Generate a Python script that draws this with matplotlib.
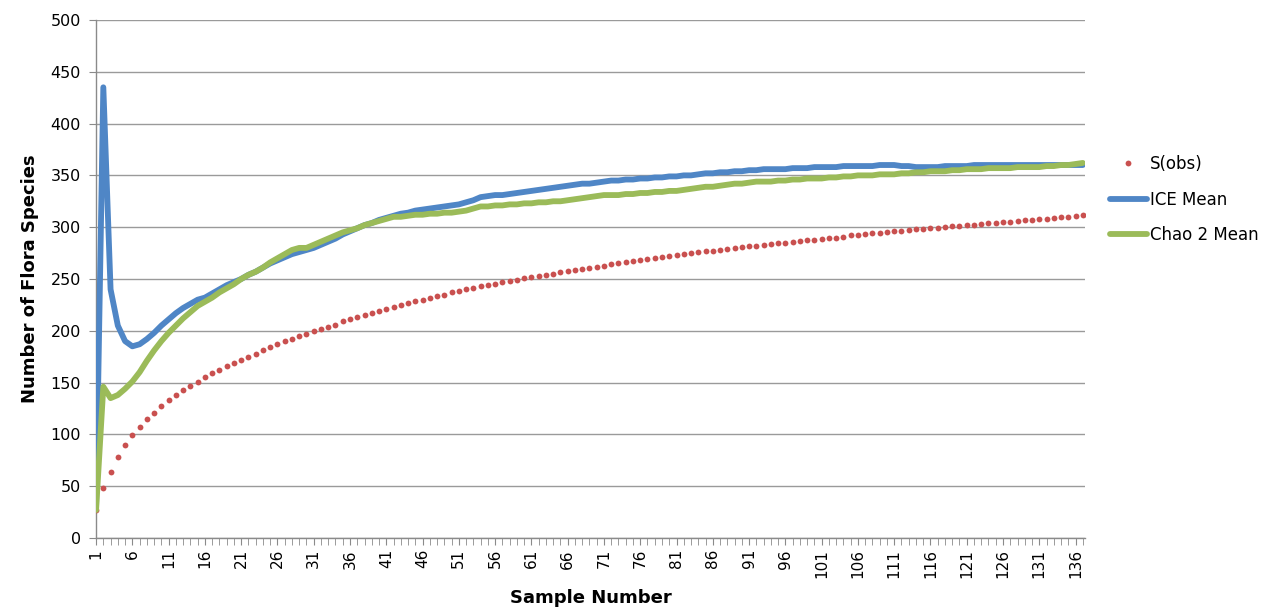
import matplotlib
matplotlib.use("Agg")
import matplotlib.pyplot as plt
import numpy as np

samples = list(range(1, 138))

s_obs = [27, 48, 64, 78, 90, 99, 107, 115, 121, 127,
         133, 138, 143, 147, 151, 155, 159, 162, 166, 169,
         172, 175, 178, 181, 184, 187, 190, 192, 195, 197,
         200, 202, 204, 206, 209, 211, 213, 215, 217, 219,
         221, 223, 225, 227, 229, 230, 232, 234, 235, 237,
         238, 240, 241, 243, 244, 245, 247, 248, 249, 251,
         252, 253, 254, 255, 257, 258, 259, 260, 261, 262,
         263, 264, 265, 266, 267, 268, 269, 270, 271, 272,
         273, 274, 275, 276, 277, 277, 278, 279, 280, 281,
         282, 282, 283, 284, 285, 285, 286, 287, 288, 288,
         289, 290, 290, 291, 292, 292, 293, 294, 294, 295,
         296, 296, 297, 298, 298, 299, 299, 300, 301, 301,
         302, 302, 303, 304, 304, 305, 305, 306, 307, 307,
         308, 308, 309, 310, 310, 311, 312]

ice_mean = [30, 435, 240, 205, 190, 185, 187, 192, 198, 205,
            211, 217, 222, 226, 230, 232, 236, 240, 244, 247,
            250, 254, 257, 261, 265, 268, 271, 274, 276, 278,
            280, 283, 286, 289, 293, 296, 299, 302, 304, 307,
            309, 311, 313, 314, 316, 317, 318, 319, 320, 321,
            322, 324, 326, 329, 330, 331, 331, 332, 333, 334,
            335, 336, 337, 338, 339, 340, 341, 342, 342, 343,
            344, 345, 345, 346, 346, 347, 347, 348, 348, 349,
            349, 350, 350, 351, 352, 352, 353, 353, 354, 354,
            355, 355, 356, 356, 356, 356, 357, 357, 357, 358,
            358, 358, 358, 359, 359, 359, 359, 359, 360, 360,
            360, 359, 359, 358, 358, 358, 358, 359, 359, 359,
            359, 360, 360, 360, 360, 360, 360, 360, 360, 360,
            360, 360, 360, 360, 360, 360, 360]

chao2_mean = [27, 146, 135, 138, 144, 151, 160, 171, 181, 190,
              198, 205, 212, 218, 224, 228, 232, 237, 241, 245,
              250, 254, 257, 261, 266, 270, 274, 278, 280, 280,
              283, 286, 289, 292, 295, 297, 299, 302, 304, 306,
              308, 310, 310, 311, 312, 312, 313, 313, 314, 314,
              315, 316, 318, 320, 320, 321, 321, 322, 322, 323,
              323, 324, 324, 325, 325, 326, 327, 328, 329, 330,
              331, 331, 331, 332, 332, 333, 333, 334, 334, 335,
              335, 336, 337, 338, 339, 339, 340, 341, 342, 342,
              343, 344, 344, 344, 345, 345, 346, 346, 347, 347,
              347, 348, 348, 349, 349, 350, 350, 350, 351, 351,
              351, 352, 352, 353, 353, 354, 354, 354, 355, 355,
              356, 356, 356, 357, 357, 357, 357, 358, 358, 358,
              358, 359, 359, 360, 360, 361, 362]

y_ticks = list(range(0, 501, 50))
x_tick_labels = list(range(1, 137, 5))

plt.rcParams['font.family'] = ['DejaVu Sans']

fig = plt.figure(figsize=(12.69, 6.09), dpi=100)
ax = fig.add_axes([0.0757, 0.1166, 0.7793, 0.8506])

ax.plot(samples, s_obs, linestyle='none', marker='o', markersize=4.2,
        color='#c9504f', markeredgewidth=0, label='S(obs)', zorder=3)
ax.plot(samples, ice_mean, color='#4f86c6', linewidth=4.2,
        solid_capstyle='round', solid_joinstyle='round', label='ICE Mean', zorder=4)
ax.plot(samples, chao2_mean, color='#9bbb59', linewidth=4.2,
        solid_capstyle='round', solid_joinstyle='round', label='Chao 2 Mean', zorder=5)

ax.set_xlim(1, 137.3)
ax.set_ylim(0, 500)
ax.set_yticks(y_ticks)
ax.set_xticks(x_tick_labels)
ax.set_xticklabels([str(v) for v in x_tick_labels], rotation=90)
ax.set_xticks(samples, minor=True)

ax.grid(axis='y', color='#9a9a9a', linewidth=1.0)
ax.set_axisbelow(True)
for side in ['top', 'right']:
    ax.spines[side].set_visible(False)
for side in ['left', 'bottom']:
    ax.spines[side].set_color('#8a8a8a')
    ax.spines[side].set_linewidth(1.0)

ax.tick_params(axis='both', which='both', color='#8a8a8a', direction='out')
ax.tick_params(axis='x', which='major', length=5, labelsize=11, pad=3)
ax.tick_params(axis='x', which='minor', length=5)
ax.tick_params(axis='y', which='major', length=5, labelsize=11.5, pad=6)

ax.set_ylabel('Number of Flora Species', fontsize=13, fontweight='bold', labelpad=8)
ax.set_xlabel('Sample Number', fontsize=13, fontweight='bold', labelpad=8)

leg = ax.legend(loc='center left', bbox_to_anchor=(1.01, 0.653), frameon=False,
                fontsize=12, handlelength=2.2, handletextpad=0.2, labelspacing=1.05,
                markerscale=1.0)

fig.savefig('out.png', dpi=100, facecolor='white')
